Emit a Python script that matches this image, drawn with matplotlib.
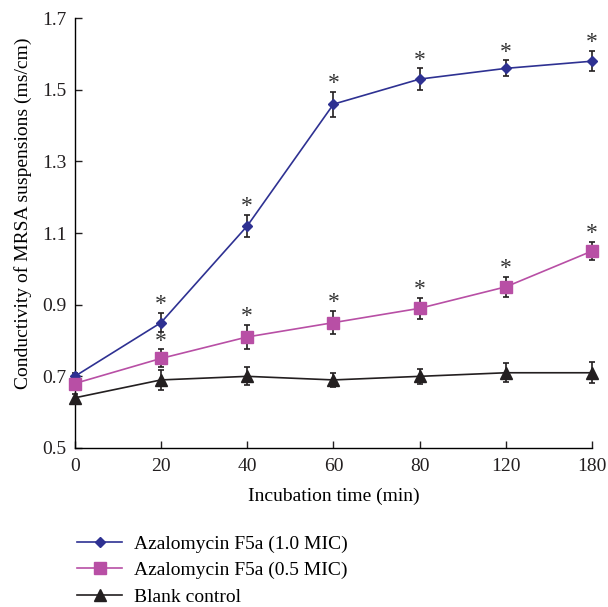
import numpy as np
import matplotlib.pyplot as plt

plt.rcParams['font.family'] = ['Liberation Serif', 'DejaVu Serif']

times = ['0', '20', '40', '60', '80', '120', '180']
mic10 = [0.70, 0.85, 1.12, 1.46, 1.53, 1.56, 1.58]
mic10_err = [0.01, 0.027, 0.03, 0.035, 0.03, 0.022, 0.028]
mic05 = [0.68, 0.75, 0.81, 0.85, 0.89, 0.95, 1.05]
mic05_err = [0.01, 0.025, 0.034, 0.032, 0.029, 0.028, 0.025]
blank = [0.64, 0.69, 0.70, 0.69, 0.70, 0.71, 0.71]
blank_err = [0.01, 0.028, 0.025, 0.02, 0.021, 0.026, 0.029]
stars10 = [False, True, True, True, True, True, True]
stars05 = [False, True, True, True, True, True, True]

x = np.arange(len(times))

fig = plt.figure(figsize=(6.08, 6.07), dpi=100)
ax = fig.add_axes([0.123, 0.262, 0.851, 0.708])

series = [
    (mic10, mic10_err, stars10, '#2e3192', 'D', 5, 'Azalomycin F5a (1.0 MIC)'),
    (mic05, mic05_err, stars05, '#b84fa5', 's', 8, 'Azalomycin F5a (0.5 MIC)'),
    (blank, blank_err, None, '#231f20', '^', 8, 'Blank control'),
]
for vals, err, stars, col, mk, ms, lab in series:
    eb = ax.errorbar(x, vals, yerr=err, fmt='none', ecolor='#231f20',
                     elinewidth=1.2, capsize=2, capthick=1.2, zorder=2)
    for art in eb.lines[1] + eb.lines[2]:
        art.set_clip_on(False)
    ax.plot(x, vals, color=col, marker=mk, markersize=ms, lw=1.2,
            label=lab, zorder=3, clip_on=False)
    if stars is not None:
        for xi, v, e, s in zip(x, vals, err, stars):
            if s:
                ax.annotate('*', (xi, v + e), xytext=(0, 6),
                            textcoords='offset points', ha='center',
                            va='center', fontsize=17, color='#333333',
                            annotation_clip=False)

ax.set_xlim(0, 6)
ax.set_ylim(0.5, 1.7)
ax.set_xticks(x)
ax.set_xticklabels(times)
ax.set_yticks(np.arange(0.5, 1.71, 0.2))
ax.set_yticklabels(['0.5', '0.7', '0.9', '1.1', '1.3', '1.5', '1.7'])
ax.tick_params(direction='in', length=5, width=1, labelsize=14, colors='#231f20')
ax.tick_params(axis='x', pad=7)
ax.tick_params(axis='y', pad=6)
ax.spines['top'].set_visible(False)
ax.spines['right'].set_visible(False)
ax.spines['left'].set_linewidth(1)
ax.spines['bottom'].set_linewidth(1)
ax.set_xlabel('Incubation time (min)', fontsize=14, labelpad=9)
ax.set_ylabel('Conductivity of MRSA suspensions (ms/cm)', fontsize=14)
ax.yaxis.set_label_coords(-0.083, 0.547)

leg = ax.legend(loc='upper left', bbox_to_anchor=(-0.01, -0.185), frameon=False,
                fontsize=14, handlelength=2.3, handletextpad=0.6,
                labelspacing=0.45, borderaxespad=0)

fig.savefig('out.png', dpi=100)
